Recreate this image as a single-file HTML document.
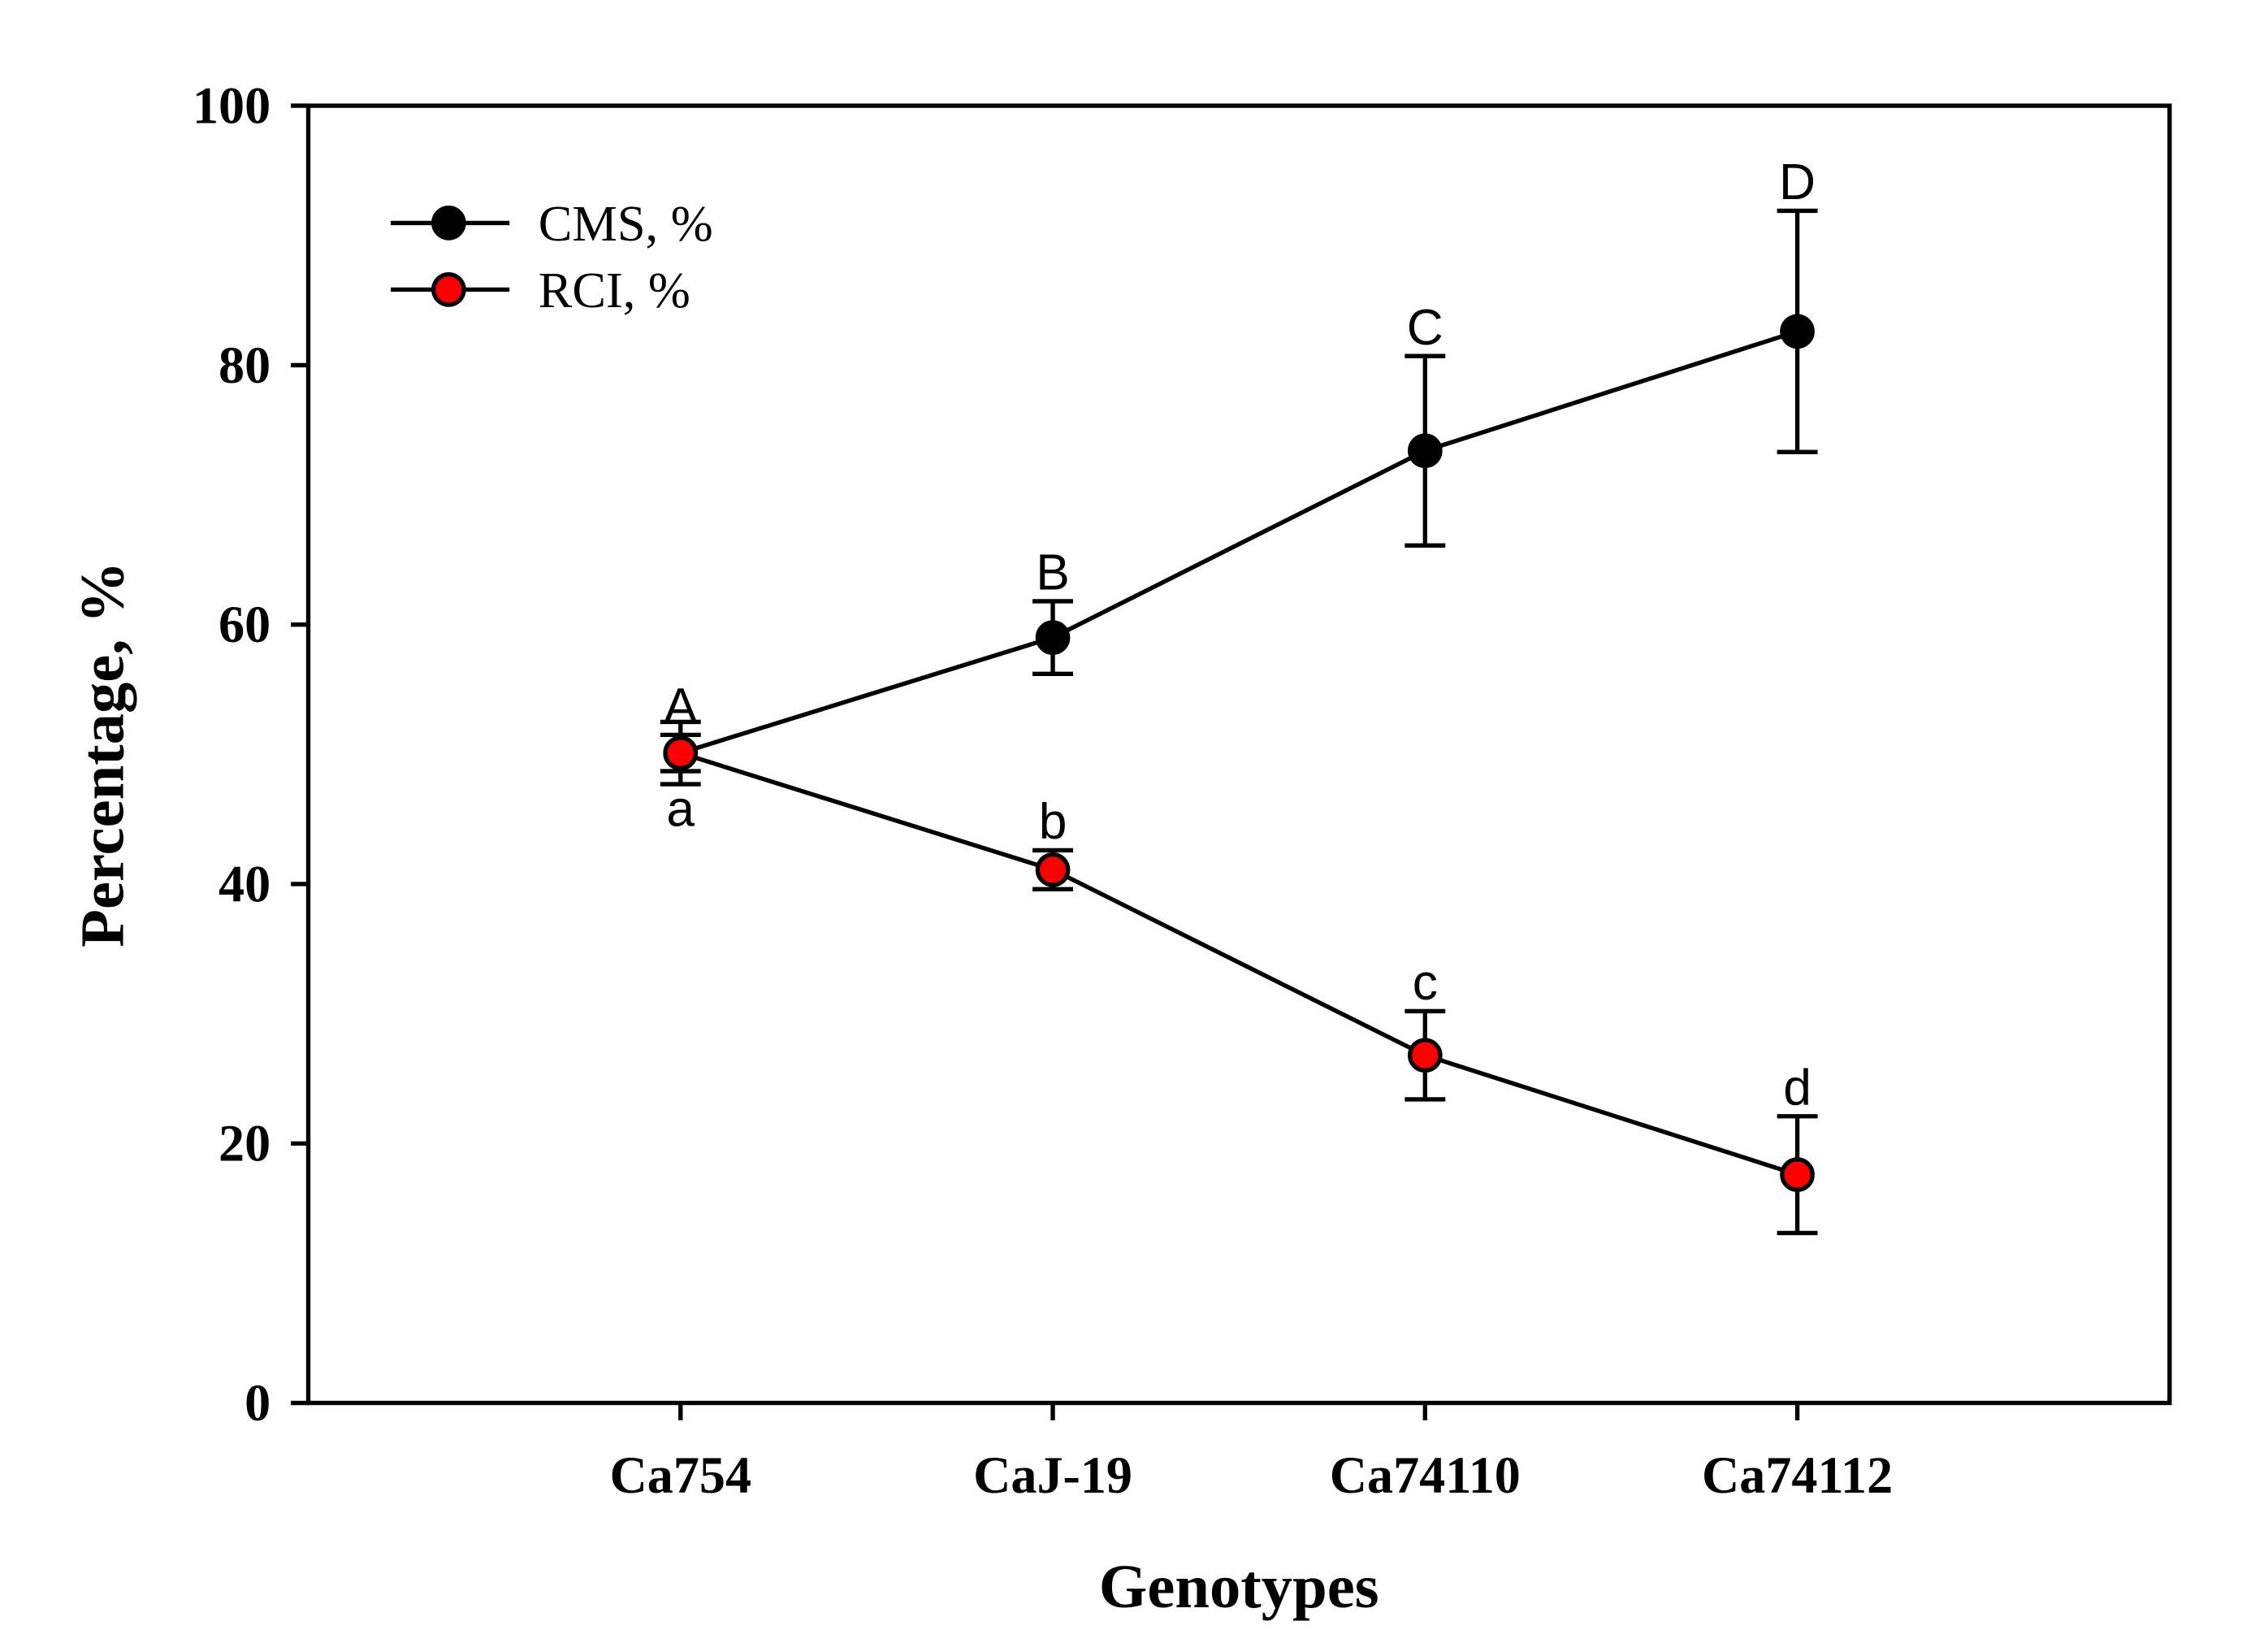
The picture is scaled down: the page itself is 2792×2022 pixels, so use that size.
<!DOCTYPE html>
<html><head><meta charset="utf-8"><style>html,body{margin:0;padding:0;background:#fff}svg{display:block}</style></head>
<body>
<svg id="chart" width="2792" height="2022" viewBox="0 0 1567 1134.8" xmlns="http://www.w3.org/2000/svg">
<rect width="1567" height="1134.8" fill="#fff"/>
<g id="plot"></g>
</svg>
<script>
const categories = ["Ca754", "CaJ-19", "Ca74110", "Ca74112"];
const cmsValues = [50.1, 59.0, 73.4, 82.6];
const cmsErrors = [1.4, 2.8, 7.3, 9.3];
const cmsLetters = ["A", "B", "C", "D"];
const rciValues = [50.1, 41.1, 26.8, 17.6];
const rciErrors = [2.4, 1.5, 3.4, 4.5];
const rciLetters = ["a", "b", "c", "d"];
const yTicks = [0, 20, 40, 60, 80, 100];

const NS = "http://www.w3.org/2000/svg";
const L = 213, R = 1499, T = 73, B = 969;
const xs = i => L + (R - L) * (i + 1) / (categories.length + 1);
const ys = v => B - (B - T) * v / 100;
const g = document.getElementById('plot');
function mk(tag, attrs, parent) {
  const e = document.createElementNS(NS, tag);
  for (const k in attrs) e.setAttribute(k, attrs[k]);
  (parent || g).appendChild(e);
  return e;
}
const serif = '"Liberation Serif", serif', sans = '"Liberation Sans", sans-serif';
const SW = 3;

let e = mk('rect', {x: L, y: T, width: R - L, height: B - T, fill: 'none', stroke: '#000', 'stroke-width': SW});



yTicks.forEach(v => {
  let t = mk('line', {x1: L - 12, x2: L, y1: ys(v), y2: ys(v), stroke: '#000', 'stroke-width': SW});
  
  
  let tx = mk('text', {x: L - 26, y: ys(v) + 12, 'text-anchor': 'end', 'font-family': serif, 'font-weight': 'bold', 'font-size': 36});
  tx.textContent = v;
  
  
});
categories.forEach((c, i) => {
  let t = mk('line', {x1: xs(i), x2: xs(i), y1: B, y2: B + 12, stroke: '#000', 'stroke-width': SW});
  
  
  let tx = mk('text', {x: xs(i), y: 1031, 'text-anchor': 'middle', 'font-family': serif, 'font-weight': 'bold', 'font-size': 36});
  tx.textContent = c;
  
  
});
e = mk('text', {x: 856, y: 1110, 'text-anchor': 'middle', 'font-family': serif, 'font-weight': 'bold', 'font-size': 43});
e.textContent = 'Genotypes';


e = mk('text', {x: 0, y: 0, 'text-anchor': 'middle', 'font-family': serif, 'font-weight': 'bold', 'font-size': 43, transform: 'translate(85,521) rotate(-90)'});
e.textContent = 'Percentage, %';



function series(vals, errs, letters, fill, name, lettersBelowFirst) {
  const pts = vals.map((v, i) => xs(i) + ',' + ys(v)).join(' ');
  let p = mk('polyline', {points: pts, fill: 'none', stroke: '#000', 'stroke-width': SW});
  
  
  vals.forEach((v, i) => {
    const x = xs(i), yt = ys(v + errs[i]), yb = ys(v - errs[i]);
    let eb = mk('path', {d: `M${x},${yt}V${yb}M${x-14},${yt}H${x+14}M${x-14},${yb}H${x+14}`, stroke: '#000', 'stroke-width': SW, fill: 'none'});
    
    
  });
  vals.forEach((v, i) => {
    let c = mk('circle', {cx: xs(i), cy: ys(v), r: 10.5, fill: fill, stroke: '#000', 'stroke-width': SW});
    
    
    const below = lettersBelowFirst && i === 0;
    const ly = below ? ys(v - errs[i]) + 29 : ys(v + errs[i]) - 8;
    let t = mk('text', {x: xs(i), y: ly, 'text-anchor': 'middle', 'font-family': sans, 'font-size': 35});
    t.textContent = letters[i];
    
    
  });
}
series(rciValues, rciErrors, rciLetters, '#ff0000', 'rci', true);
series(cmsValues, cmsErrors, cmsLetters, '#000', 'cms', false);
e = mk('circle', {cx: xs(0), cy: ys(rciValues[0]), r: 10.5, fill: '#ff0000', stroke: '#000', 'stroke-width': SW});



[['CMS, %', '#000', 154, 'legend-entry-cms'], ['RCI, %', '#ff0000', 200, 'legend-entry-rci']].forEach(d => {
  let gg = mk('g', {});
  
  
  mk('line', {x1: 270, x2: 352, y1: d[2], y2: d[2], stroke: '#000', 'stroke-width': SW}, gg);
  mk('circle', {cx: 310, cy: d[2], r: 10.5, fill: d[1], stroke: '#000', 'stroke-width': SW}, gg);
  let t = mk('text', {x: 372, y: d[2] + 12, 'font-family': serif, 'font-size': 35}, gg);
  t.textContent = d[0];
});
</script>
</body></html>
